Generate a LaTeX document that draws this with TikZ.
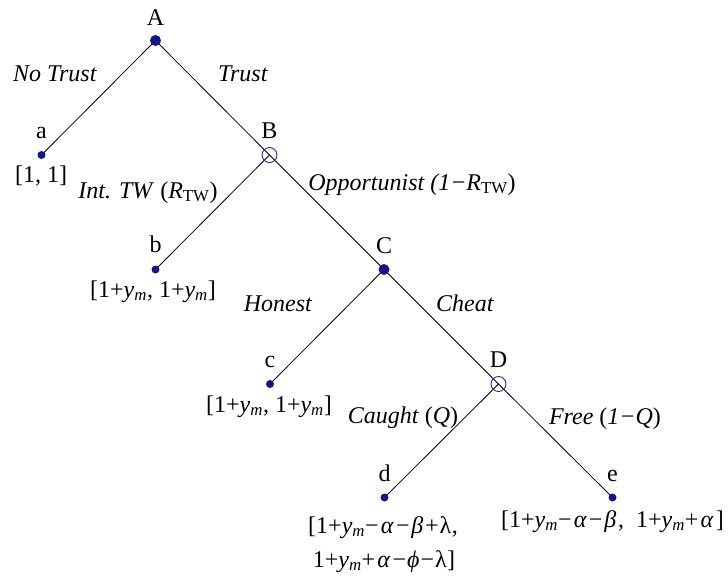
\documentclass[tikz,border=0pt]{standalone}
\usepackage{fontspec}
\setmainfont{Liberation Serif}
\newfontfamily\tnr{Liberation Serif}
\usetikzlibrary{backgrounds}
\definecolor{dotnavy}{RGB}{20,20,140}
\definecolor{ringblue}{RGB}{35,35,190}
\newcommand\ymm{\textit{y}\textsubscript{\textit{m}}}
\newcommand\rtw{\textit{R}\textsubscript{TW}}
\newcommand\mns{−}
\newcommand\gal{\kern2.2pt\textit{α}\kern2.2pt}
\newcommand\gbe{\kern1.8pt\textit{β}\kern1.8pt}
\newcommand\gla{\kern1pt λ\kern0.5pt}
\newcommand\gph{\kern1pt\textit{ϕ}\kern1pt}
\begin{document}
\begin{tikzpicture}[x=1pt,y=-1pt,
  every node/.style={font=\tnr\fontsize{24}{28}\selectfont},
  pdot/.style={circle,fill=dotnavy,inner sep=0pt,minimum size=11pt},
  leaf/.style={circle,fill=dotnavy,inner sep=0pt,minimum size=8pt},
  ring/.style={circle,draw=ringblue,line width=0.9pt,inner sep=0pt,minimum size=15pt},
  txt/.style={anchor=base,inner sep=0pt},
  edge/.style={line width=0.8pt,black}]
\useasboundingbox (0,0) rectangle (728,579);
% decision nodes
\node[pdot] (A) at (155.5,40.5) {};
\node[leaf] (a) at (41.5,155) {};
\node[ring] (B) at (269.5,155) {};
\node[leaf] (b) at (155.5,269.5) {};
\node[pdot] (C) at (384,269.5) {};
\node[leaf] (c) at (270,384) {};
\node[ring] (D) at (498.5,384) {};
\node[leaf] (d) at (384.5,497.5) {};
\node[leaf] (e) at (612.5,497.5) {};
\begin{scope}[on background layer]
\draw[edge] (A.center) -- (a.center);
\draw[edge] (A.center) -- (B.center);
\draw[edge] (B.center) -- (b.center);
\draw[edge] (B.center) -- (C.center);
\draw[edge] (C.center) -- (c.center);
\draw[edge] (C.center) -- (D.center);
\draw[edge] (D.center) -- (d.center);
\draw[edge] (D.center) -- (e.center);
\end{scope}
% node letters
\node[txt] (lA) at (155.5,25.5) {A};
\node[txt] (la) at (41.5,138.5) {a};
\node[txt] (lB) at (269.5,138.5) {B};
\node[txt] (lb) at (155.5,252.5) {b};
\node[txt] (lC) at (384,253.5) {C};
\node[txt] (lc) at (270,367.5) {c};
\node[txt] (lD) at (498.5,367.5) {D};
\node[txt] (ld) at (384.5,481.5) {d};
\node[txt] (le) at (612.5,481.5) {e};
% payoffs
\node[txt] (pa) at (41,182) {[1, 1]};
\node[txt] (pb) at (153,297) {[1+\ymm, 1+\ymm]};
\node[txt] (pc) at (269,412) {[1+\ymm, 1+\ymm]};
\node[txt] (pd1) at (383,533) {[1+\ymm\mns\gal\mns\gbe+\gla,};
\node[txt] (pd2) at (384,567) {1+\ymm+\gal\mns\gph\mns\gla]};
\node[txt] (pe) at (612.5,527) {[1+\ymm\mns\gal\mns\gbe,\ \ 1+\ymm+\gal]};
% edge labels
\node[txt] (tNT) at (55,81) {\textit{No Trust}};
\node[txt] (tT) at (243,81) {\textit{Trust}};
\node[txt] (tI) at (148,198) {\textit{Int. TW} (\rtw)};
\node[txt] (tO) at (412,190) {\textit{Opportunist (1\mns}\rtw)};
\node[txt] (tH) at (278,311) {\textit{Honest}};
\node[txt] (tC) at (465,311) {\textit{Cheat}};
\node[txt] (tCa) at (403,423) {\textit{Caught} (\textit{Q})};
\node[txt] (tF) at (605,424) {\textit{Free} (\textit{1\mns Q})};
\end{tikzpicture}
\end{document}
